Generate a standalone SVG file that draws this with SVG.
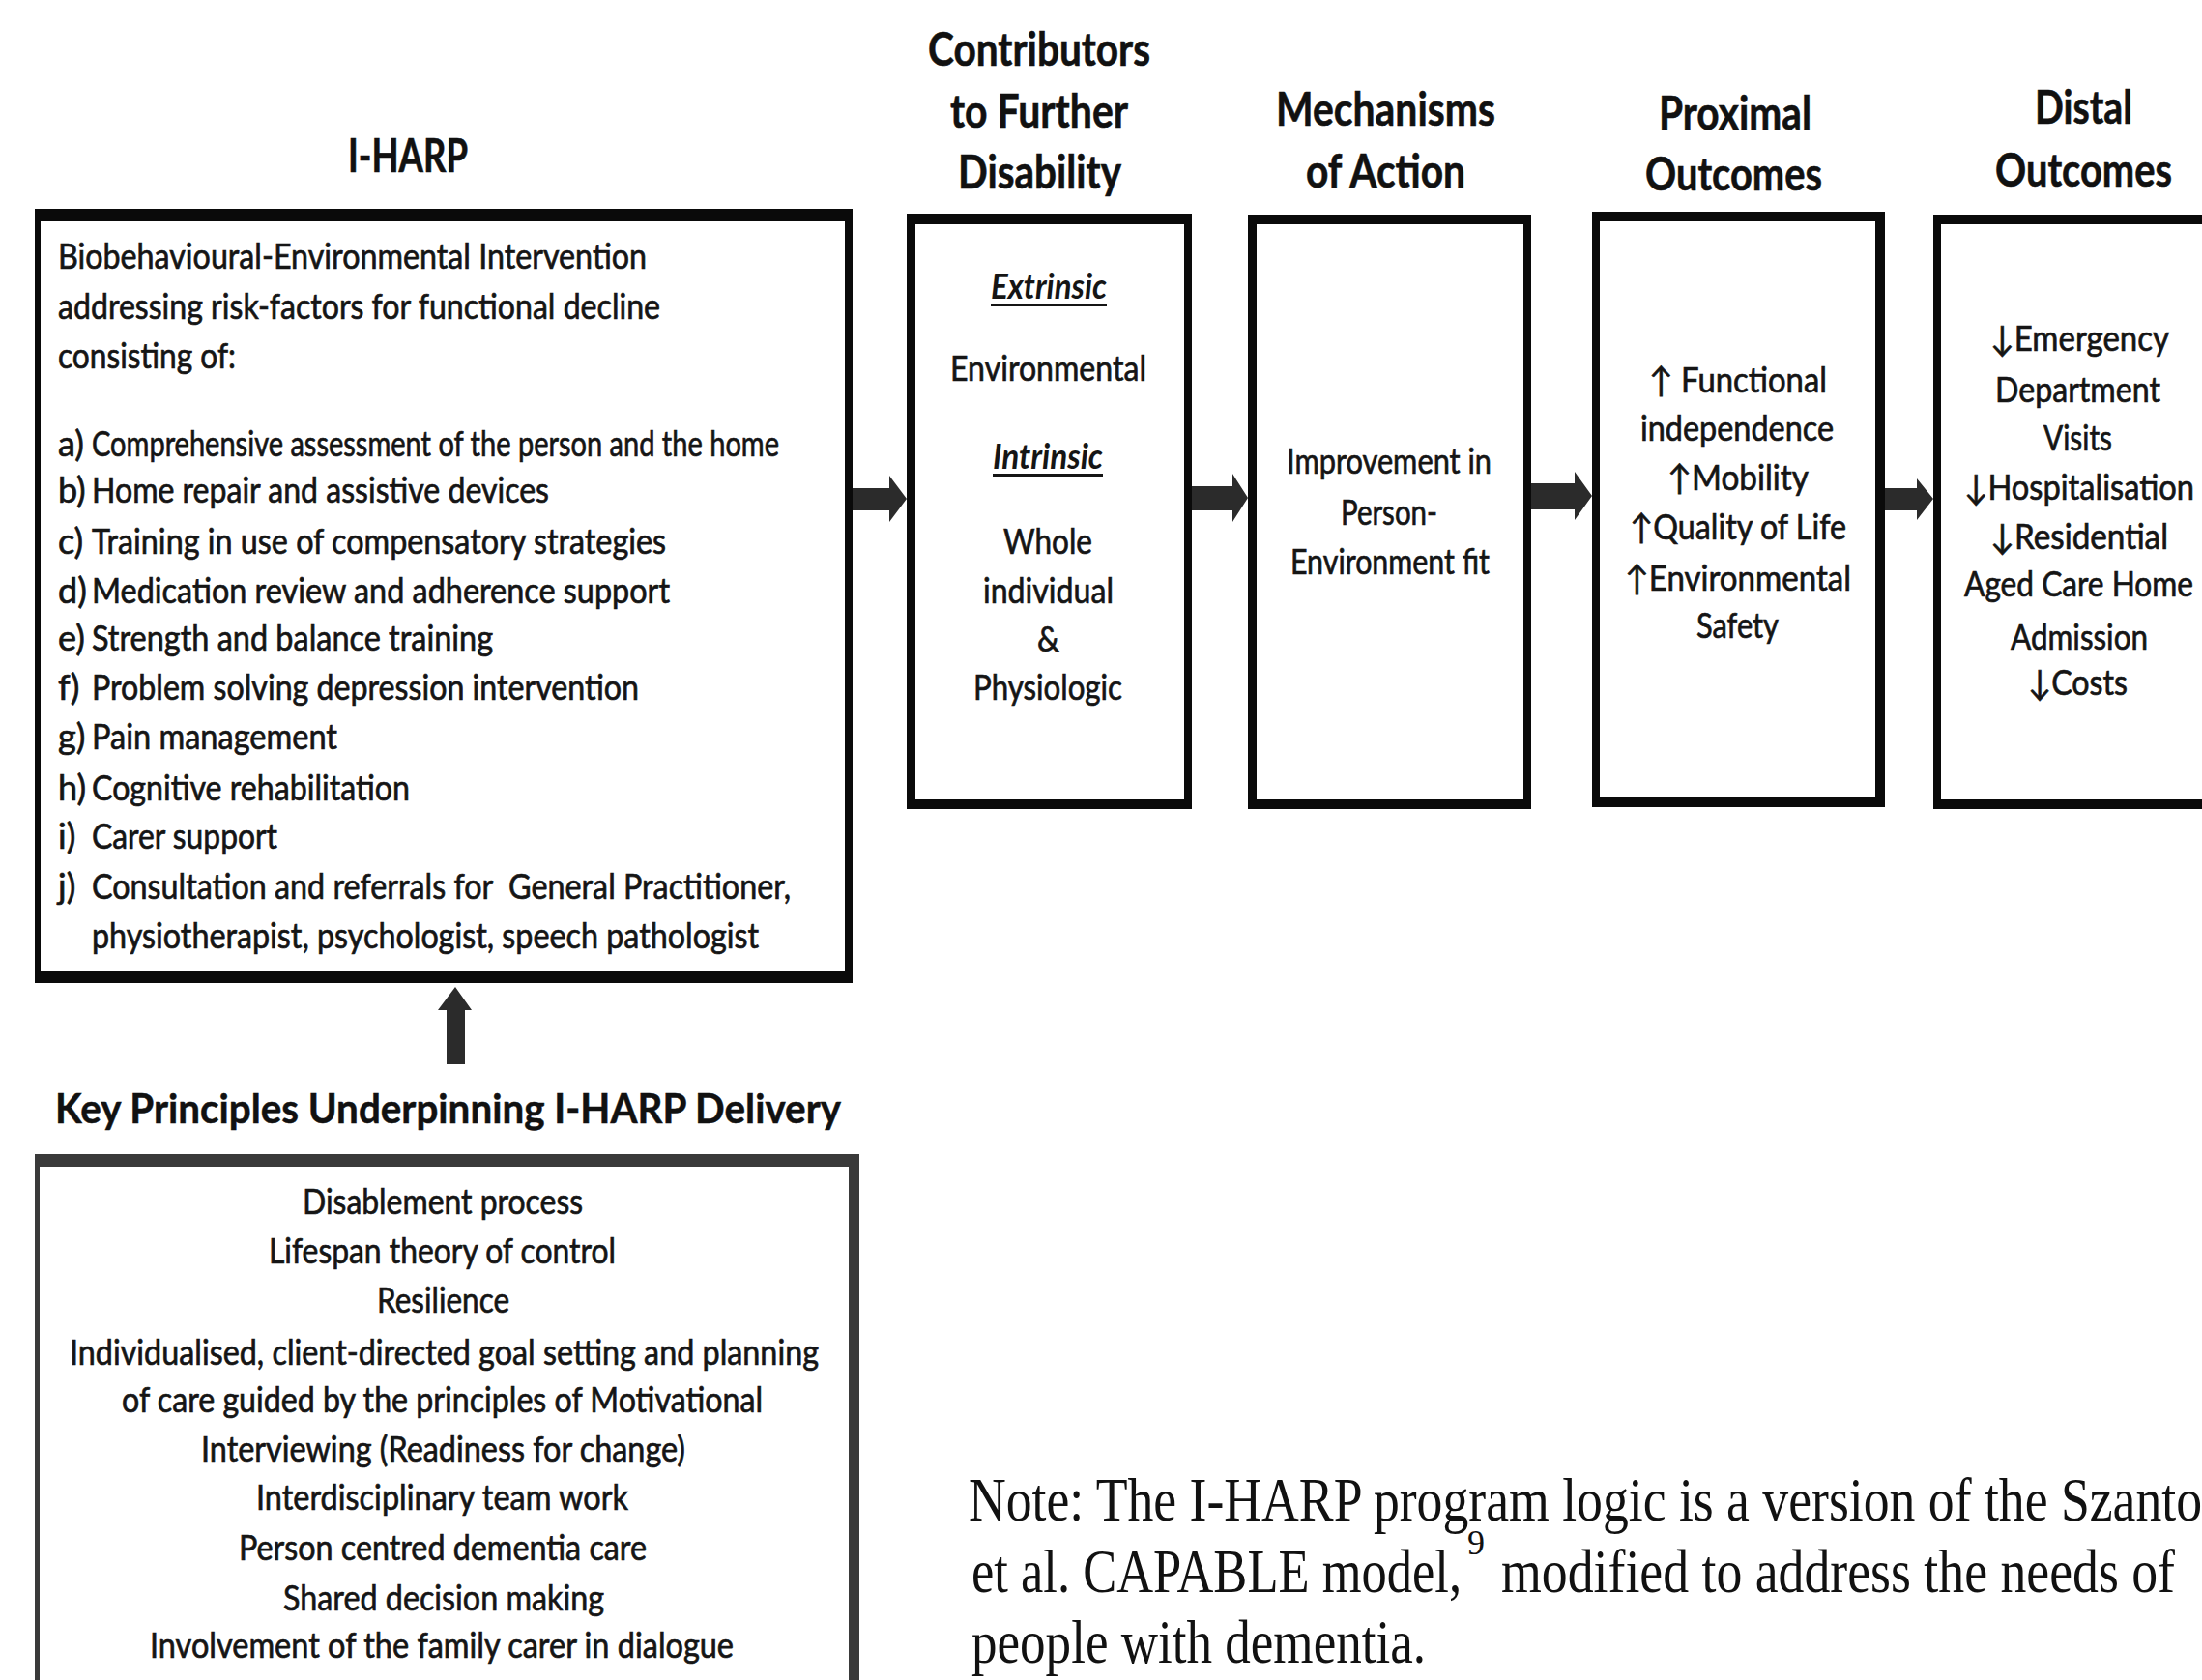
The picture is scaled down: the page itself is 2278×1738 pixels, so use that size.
<svg xmlns="http://www.w3.org/2000/svg" width="2278" height="1738" viewBox="0 0 2278 1738">
<style>
  .bg{fill:#ffffff}
  .frame{fill:#0a0a0a}
  .frame2{fill:#3a3a3a}
  .inner{fill:#ffffff}
  .hd{font-family:Lato,"Liberation Sans",sans-serif;font-weight:bold;font-size:48px;fill:#111;stroke:#111;stroke-width:0.6}
  .kh{font-family:Lato,"Liberation Sans",sans-serif;font-weight:bold;font-size:42px;fill:#111;stroke:#111;stroke-width:0.5}
  .tx{font-family:Lato,"Liberation Sans","DejaVu Sans",sans-serif;font-size:36px;fill:#151515;stroke:#151515;stroke-width:0.7}
  .bi{font-family:Lato,"Liberation Sans",sans-serif;font-size:36px;font-weight:bold;font-style:italic;fill:#151515}
  .ul{fill:#151515}
  .note{font-family:"Liberation Serif","Times New Roman",serif;font-size:64px;fill:#111}
  .sup{font-family:"Liberation Serif","Times New Roman",serif;font-size:36px;fill:#111}
  .arrow{fill:#2b2b2b}
</style>
<rect class="bg" x="0" y="0" width="2278" height="1738"/>

<g id="n-iharp">
  <text class="hd" x="360" y="178" textLength="124" lengthAdjust="spacingAndGlyphs">I-HARP</text>
  <rect class="frame" x="36" y="216" width="846" height="801"/>
  <rect class="inner" x="42" y="229" width="832" height="776"/>
  <text class="tx" x="60" y="278" textLength="609" lengthAdjust="spacingAndGlyphs">Biobehavioural-Environmental Intervention</text>
  <text class="tx" x="60" y="330" textLength="623" lengthAdjust="spacingAndGlyphs">addressing risk-factors for functional decline</text>
  <text class="tx" x="60" y="381" textLength="184" lengthAdjust="spacingAndGlyphs">consisting of:</text>
  <text class="tx" x="60" y="472">a)</text>
  <text class="tx" x="95" y="472" textLength="711" lengthAdjust="spacingAndGlyphs">Comprehensive assessment of the person and the home</text>
  <text class="tx" x="60" y="520">b)</text>
  <text class="tx" x="95" y="520" textLength="473" lengthAdjust="spacingAndGlyphs">Home repair and assistive devices</text>
  <text class="tx" x="60" y="573">c)</text>
  <text class="tx" x="95" y="573" textLength="594" lengthAdjust="spacingAndGlyphs">Training in use of compensatory strategies</text>
  <text class="tx" x="60" y="624">d)</text>
  <text class="tx" x="95" y="624" textLength="598" lengthAdjust="spacingAndGlyphs">Medication review and adherence support</text>
  <text class="tx" x="60" y="673">e)</text>
  <text class="tx" x="95" y="673" textLength="415" lengthAdjust="spacingAndGlyphs">Strength and balance training</text>
  <text class="tx" x="60" y="724">f)</text>
  <text class="tx" x="95" y="724" textLength="566" lengthAdjust="spacingAndGlyphs">Problem solving depression intervention</text>
  <text class="tx" x="60" y="775">g)</text>
  <text class="tx" x="95" y="775" textLength="254" lengthAdjust="spacingAndGlyphs">Pain management</text>
  <text class="tx" x="60" y="828">h)</text>
  <text class="tx" x="95" y="828" textLength="329" lengthAdjust="spacingAndGlyphs">Cognitive rehabilitation</text>
  <text class="tx" x="60" y="878">i)</text>
  <text class="tx" x="95" y="878" textLength="192" lengthAdjust="spacingAndGlyphs">Carer support</text>
  <text class="tx" x="60" y="930">j)</text>
  <text class="tx" x="95" y="930" textLength="723" lengthAdjust="spacingAndGlyphs" xml:space="preserve">Consultation and referrals for  General Practitioner,</text>
  <text class="tx" x="95" y="981" textLength="690" lengthAdjust="spacingAndGlyphs">physiotherapist, psychologist, speech pathologist</text>
</g>

<g id="n-contributors">
  <text class="hd" x="960" y="68" textLength="230" lengthAdjust="spacingAndGlyphs">Contributors</text>
  <text class="hd" x="983" y="132" textLength="184" lengthAdjust="spacingAndGlyphs">to Further</text>
  <text class="hd" x="991" y="195" textLength="169" lengthAdjust="spacingAndGlyphs">Disability</text>
  <rect class="frame" x="938" y="221" width="295" height="616"/>
  <rect class="inner" x="947" y="232" width="278" height="595"/>
  <text class="bi" x="1025" y="309" textLength="120" lengthAdjust="spacingAndGlyphs">Extrinsic</text>
  <rect class="ul" x="1025" y="314" width="120" height="3"/>
  <text class="tx" x="983" y="394" textLength="203" lengthAdjust="spacingAndGlyphs">Environmental</text>
  <text class="bi" x="1027" y="485" textLength="114" lengthAdjust="spacingAndGlyphs">Intrinsic</text>
  <rect class="ul" x="1027" y="490" width="114" height="3"/>
  <text class="tx" x="1038" y="573" textLength="92" lengthAdjust="spacingAndGlyphs">Whole</text>
  <text class="tx" x="1017" y="624" textLength="135" lengthAdjust="spacingAndGlyphs">individual</text>
  <text class="tx" x="1073" y="674" textLength="23" lengthAdjust="spacingAndGlyphs">&amp;</text>
  <text class="tx" x="1007" y="724" textLength="154" lengthAdjust="spacingAndGlyphs">Physiologic</text>
</g>

<g id="n-mechanisms">
  <text class="hd" x="1320" y="130" textLength="227" lengthAdjust="spacingAndGlyphs">Mechanisms</text>
  <text class="hd" x="1351" y="194" textLength="165" lengthAdjust="spacingAndGlyphs">of Action</text>
  <rect class="frame" x="1291" y="222" width="293" height="615"/>
  <rect class="inner" x="1300" y="232" width="276" height="595"/>
  <text class="tx" x="1331" y="490" textLength="212" lengthAdjust="spacingAndGlyphs">Improvement in</text>
  <text class="tx" x="1387" y="543" textLength="100" lengthAdjust="spacingAndGlyphs">Person-</text>
  <text class="tx" x="1335" y="594" textLength="206" lengthAdjust="spacingAndGlyphs">Environment fit</text>
</g>

<g id="n-proximal">
  <text class="hd" x="1716" y="134" textLength="158" lengthAdjust="spacingAndGlyphs">Proximal</text>
  <text class="hd" x="1702" y="197" textLength="183" lengthAdjust="spacingAndGlyphs">Outcomes</text>
  <rect class="frame" x="1647" y="219" width="303" height="616"/>
  <rect class="inner" x="1655" y="229" width="285" height="595"/>
  <text class="tx" x="1706" y="406" textLength="184" lengthAdjust="spacingAndGlyphs">↑ Functional</text>
  <text class="tx" x="1697" y="456" textLength="200" lengthAdjust="spacingAndGlyphs">independence</text>
  <text class="tx" x="1725" y="507" textLength="146" lengthAdjust="spacingAndGlyphs">↑Mobility</text>
  <text class="tx" x="1686" y="558" textLength="224" lengthAdjust="spacingAndGlyphs">↑Quality of Life</text>
  <text class="tx" x="1681" y="611" textLength="234" lengthAdjust="spacingAndGlyphs">↑Environmental</text>
  <text class="tx" x="1755" y="660" textLength="85" lengthAdjust="spacingAndGlyphs">Safety</text>
</g>

<g id="n-distal">
  <text class="hd" x="2105" y="128" textLength="101" lengthAdjust="spacingAndGlyphs">Distal</text>
  <text class="hd" x="2064" y="193" textLength="183" lengthAdjust="spacingAndGlyphs">Outcomes</text>
  <rect class="frame" x="2000" y="222" width="320" height="615"/>
  <rect class="inner" x="2008" y="232" width="320" height="595"/>
  <text class="tx" x="2059" y="363" textLength="185" lengthAdjust="spacingAndGlyphs">↓Emergency</text>
  <text class="tx" x="2064" y="416" textLength="171" lengthAdjust="spacingAndGlyphs">Department</text>
  <text class="tx" x="2114" y="466" textLength="71" lengthAdjust="spacingAndGlyphs">Visits</text>
  <text class="tx" x="2032" y="517" textLength="238" lengthAdjust="spacingAndGlyphs">↓Hospitalisation</text>
  <text class="tx" x="2059" y="568" textLength="184" lengthAdjust="spacingAndGlyphs">↓Residential</text>
  <text class="tx" x="2032" y="617" textLength="237" lengthAdjust="spacingAndGlyphs">Aged Care Home</text>
  <text class="tx" x="2080" y="672" textLength="142" lengthAdjust="spacingAndGlyphs">Admission</text>
  <text class="tx" x="2098" y="719" textLength="103" lengthAdjust="spacingAndGlyphs">↓Costs</text>
</g>

<g id="n-principles">
  <text class="kh" x="57" y="1162" textLength="813" lengthAdjust="spacingAndGlyphs">Key Principles Underpinning I-HARP Delivery</text>
  <rect class="frame2" x="36" y="1194" width="853" height="600"/>
  <rect class="inner" x="41" y="1207" width="837" height="600"/>
  <text class="tx" x="313" y="1256" textLength="290" lengthAdjust="spacingAndGlyphs">Disablement process</text>
  <text class="tx" x="278" y="1307" textLength="359" lengthAdjust="spacingAndGlyphs">Lifespan theory of control</text>
  <text class="tx" x="390" y="1358" textLength="137" lengthAdjust="spacingAndGlyphs">Resilience</text>
  <text class="tx" x="72" y="1412" textLength="775" lengthAdjust="spacingAndGlyphs">Individualised, client-directed goal setting and planning</text>
  <text class="tx" x="126" y="1461" textLength="663" lengthAdjust="spacingAndGlyphs">of care guided by the principles of Motivational</text>
  <text class="tx" x="208" y="1512" textLength="501" lengthAdjust="spacingAndGlyphs">Interviewing (Readiness for change)</text>
  <text class="tx" x="265" y="1562" textLength="385" lengthAdjust="spacingAndGlyphs">Interdisciplinary team work</text>
  <text class="tx" x="247" y="1614" textLength="422" lengthAdjust="spacingAndGlyphs">Person centred dementia care</text>
  <text class="tx" x="293" y="1666" textLength="332" lengthAdjust="spacingAndGlyphs">Shared decision making</text>
  <text class="tx" x="155" y="1715" textLength="604" lengthAdjust="spacingAndGlyphs">Involvement of the family carer in dialogue</text>
</g>

<g id="connectors">
  <polygon class="arrow" points="882,505 920,505 920,492 938,516 920,540 920,528 882,528"/>
  <polygon class="arrow" points="1233,503 1275,503 1275,490 1291,515 1275,540 1275,528 1233,528"/>
  <polygon class="arrow" points="1584,500 1629,500 1629,488 1647,513 1629,538 1629,527 1584,527"/>
  <polygon class="arrow" points="1950,505 1983,505 1983,495 2000,516 1983,538 1983,528 1950,528"/>
  <polygon class="arrow" points="462,1101 462,1045 453,1045 471,1021 488,1045 481,1045 481,1101"/>
</g>

<g id="note">
  <text class="note" x="1002" y="1573" textLength="1276" lengthAdjust="spacingAndGlyphs">Note: The I-HARP program logic is a version of the Szanto</text>
  <text class="note" x="1005" y="1647" textLength="507" lengthAdjust="spacingAndGlyphs">et al. CAPABLE model,</text>
  <text class="sup" x="1518" y="1608">9</text>
  <text class="note" x="1553" y="1647" textLength="697" lengthAdjust="spacingAndGlyphs">modified to address the needs of</text>
  <text class="note" x="1005" y="1720" textLength="470" lengthAdjust="spacingAndGlyphs">people with dementia.</text>
</g>
</svg>
